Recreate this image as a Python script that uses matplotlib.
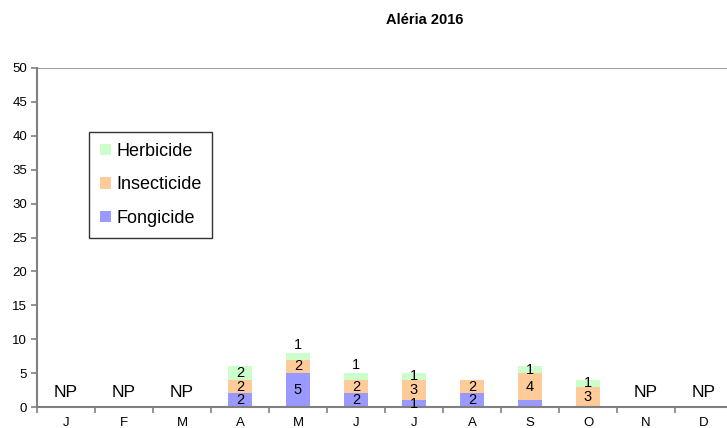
import matplotlib
matplotlib.use("Agg")
import matplotlib.pyplot as plt
from matplotlib.patches import Patch
import numpy as np

months = ["J", "F", "M", "A", "M", "J", "J", "A", "S", "O", "N", "D"]
fongicide = [0, 0, 0, 2, 5, 2, 1, 2, 1, 0, 0, 0]
insecticide = [0, 0, 0, 2, 2, 2, 3, 2, 4, 3, 0, 0]
herbicide = [0, 0, 0, 2, 1, 1, 1, 0, 1, 1, 0, 0]
np_months = [0, 1, 2, 10, 11]
fongicide_labels = ["", "", "", "2", "5", "2", "1", "2", "", "", "", ""]
insecticide_labels = ["", "", "", "2", "2", "2", "3", "2", "4", "3", "", ""]
herbicide_labels = ["", "", "", "2", "1", "1", "1", "", "1", "1", "", ""]
herb_label_above = [4, 5]

plt.rcParams['font.family'] = ['Liberation Sans', 'DejaVu Sans']

fig = plt.figure(figsize=(7.27, 4.28), dpi=100)
ax = fig.add_axes([37/727, 21/428, 696/727, 339/428])

x = np.arange(len(months))
f = np.array(fongicide)
i = np.array(insecticide)
h = np.array(herbicide)
w = 0.4
c_f, c_i, c_h = "#9999ff", "#ffcc99", "#ccffcc"
ax.bar(x, f, w, color=c_f, zorder=2)
ax.bar(x, i, w, bottom=f, color=c_i, zorder=2)
ax.bar(x, h, w, bottom=f + i, color=c_h, zorder=2)

fs = 10.5
for k in x:
    if fongicide_labels[k]:
        ax.text(k, f[k] / 2, fongicide_labels[k], ha="center", va="center", fontsize=fs, zorder=3)
    if insecticide_labels[k]:
        ax.text(k, f[k] + i[k] / 2, insecticide_labels[k], ha="center", va="center", fontsize=fs, zorder=3)
    if herbicide_labels[k]:
        if k in herb_label_above:
            yy = f[k] + i[k] + h[k] + 1.2
        else:
            yy = f[k] + i[k] + h[k] / 2
        ax.text(k, yy, herbicide_labels[k], ha="center", va="center", fontsize=fs, zorder=3)
for k in np_months:
    ax.text(k, 2.2, "NP", ha="center", va="center", fontsize=12.5)

ax.set_xlim(-0.5, 11.5)
ax.set_ylim(0, 50)
ax.set_yticks(np.arange(0, 51, 5))
ax.set_xticks(x)
ax.set_xticklabels(months)
ax.set_xticks(np.arange(-0.5, 12, 1), minor=True)
ax.tick_params(axis="x", which="major", length=0, labelsize=9.5, pad=7)
ax.tick_params(axis="x", which="minor", length=4, color="#808080", width=1.2)
ax.tick_params(axis="y", length=4, color="#808080", width=1.2, labelsize=9.5, pad=3)
ax.axhline(50, color="#a0a0a0", lw=1.5, zorder=1)
for s in ["top", "right"]:
    ax.spines[s].set_visible(False)
for s in ["left", "bottom"]:
    ax.spines[s].set_color("#808080")
    ax.spines[s].set_linewidth(1.5)

handles = [Patch(facecolor=c_h, label="Herbicide"),
           Patch(facecolor=c_i, label="Insecticide"),
           Patch(facecolor=c_f, label="Fongicide")]
leg = ax.legend(handles=handles, loc="upper left", bbox_to_anchor=((89-37)/696, (407-132)/339),
                frameon=True, fancybox=False, edgecolor="black", fontsize=13,
                handlelength=0.6, handleheight=0.6, handletextpad=0.3,
                labelspacing=0.92, borderpad=0.6, borderaxespad=0)
leg.get_frame().set_linewidth(1.0)

fig.text(425/727, 1 - 20/428, "Aléria 2016", ha="center", va="center", fontsize=10.5, fontweight="bold")

fig.savefig("out.png", dpi=100)
